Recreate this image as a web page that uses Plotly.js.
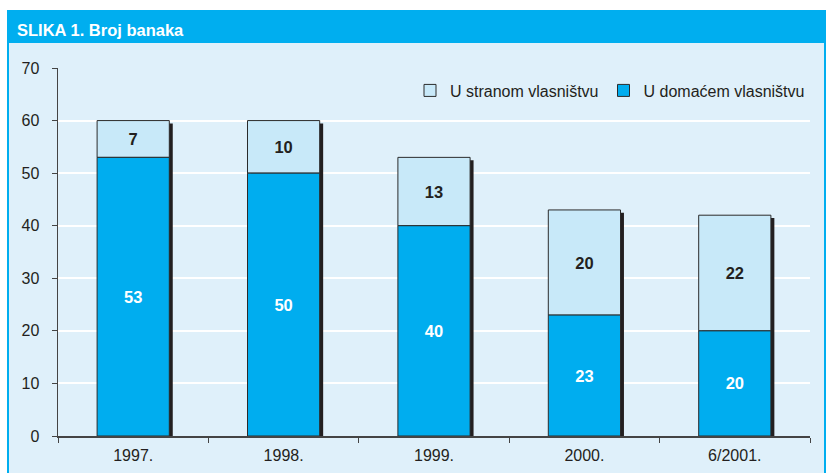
<!DOCTYPE html>
<html><head><meta charset="utf-8">
<script src="https://cdn.plot.ly/plotly-3.0.1.min.js"></script>
<style>html,body{margin:0;padding:0;background:#fff;}#c{width:827px;height:473px;}</style>
</head><body><div id="c"></div>
<script>
const categories = ['1997.', '1998.', '1999.', '2000.', '6/2001.'];
const domestic = [53, 50, 40, 23, 20];
const foreign = [7, 10, 13, 20, 22];
const yTicks = [0, 10, 20, 30, 40, 50, 60, 70];

const totals = domestic.map((d, i) => d + foreign[i]);
const font = 'Liberation Sans, Arial, sans-serif';
const W = 0.48;

const shadow = {
  type: 'bar', x: categories, y: totals.map(t => t + 0.05), base: domestic.map(() => -0.6),
  width: W, offset: -W / 2 + 0.023,
  marker: {color: '#231f20', line: {width: 0}},
  hoverinfo: 'skip', showlegend: false
};
const dom = {
  type: 'bar', name: 'U domaćem vlasništvu', x: categories, y: domestic, base: domestic.map(() => 0),
  width: W, offset: -W / 2,
  marker: {color: '#00adef', line: {color: '#2b2b2b', width: 1}},
  text: domestic.map(String), textposition: 'inside', insidetextanchor: 'middle',
  textfont: {family: font, size: 16.5, color: '#ffffff', weight: 'bold'}
};
const forn = {
  type: 'bar', name: 'U stranom vlasništvu', x: categories, y: foreign, base: domestic,
  width: W, offset: -W / 2,
  marker: {color: '#c8e9f9', line: {color: '#2b2b2b', width: 1}},
  text: foreign.map(String), textposition: 'inside', insidetextanchor: 'middle',
  textfont: {family: font, size: 16.5, color: '#231f20', weight: 'bold'}
};

const layout = {
  width: 827, height: 473,
  margin: {l: 58, r: 17, t: 68, b: 37},
  paper_bgcolor: '#ffffff', plot_bgcolor: 'rgba(0,0,0,0)',
  barmode: 'overlay',
  font: {family: font, color: '#231f20', size: 16},
  title: {text: '<b>SLIKA 1. Broj banaka</b>', x: 17 / 827, xanchor: 'left', y: 1 - 30 / 473, yanchor: 'middle',
    font: {family: font, size: 16.5, color: '#ffffff'}},
  shapes: [
    {type: 'rect', xref: 'paper', yref: 'paper', x0: -50 / 752, x1: 767 / 752, y0: -40 / 368, y1: 425 / 368,
      fillcolor: '#dff0fa', line: {color: '#00aeef', width: 2}, layer: 'below'},
    {type: 'rect', xref: 'paper', yref: 'paper', x0: -50 / 752, x1: 767 / 752, y0: 394 / 368, y1: 425 / 368,
      fillcolor: '#00aeef', line: {color: '#00aeef', width: 2}, layer: 'below'}
  ],
  xaxis: {
    type: 'category', range: [-0.5, 4.5], tickson: 'boundaries', ticks: 'outside', ticklen: 5,
    tickcolor: '#444', showline: true, linecolor: '#444', linewidth: 1.5, showgrid: false,
    tickfont: {size: 16, color: '#231f20'}, ticklabelstandoff: 4
  },
  yaxis: {
    range: [0, 70], tickvals: yTicks, ticks: 'outside', ticklen: 5, tickcolor: '#444',
    showline: true, linecolor: '#444', linewidth: 1.5, showgrid: true, gridcolor: '#ffffff', gridwidth: 2,
    zeroline: false, tickfont: {size: 16, color: '#231f20'}, ticklabelstandoff: 9
  },
  legend: {
    orientation: 'h', x: 1, xanchor: 'right', y: 0.985, yanchor: 'top',
    bgcolor: 'rgba(0,0,0,0)', font: {size: 16, color: '#231f20'}, traceorder: 'normal'
  },
  showlegend: true
};

Plotly.newPlot('c', [shadow, forn, dom], layout, {displayModeBar: false, staticPlot: true});
</script></body></html>
